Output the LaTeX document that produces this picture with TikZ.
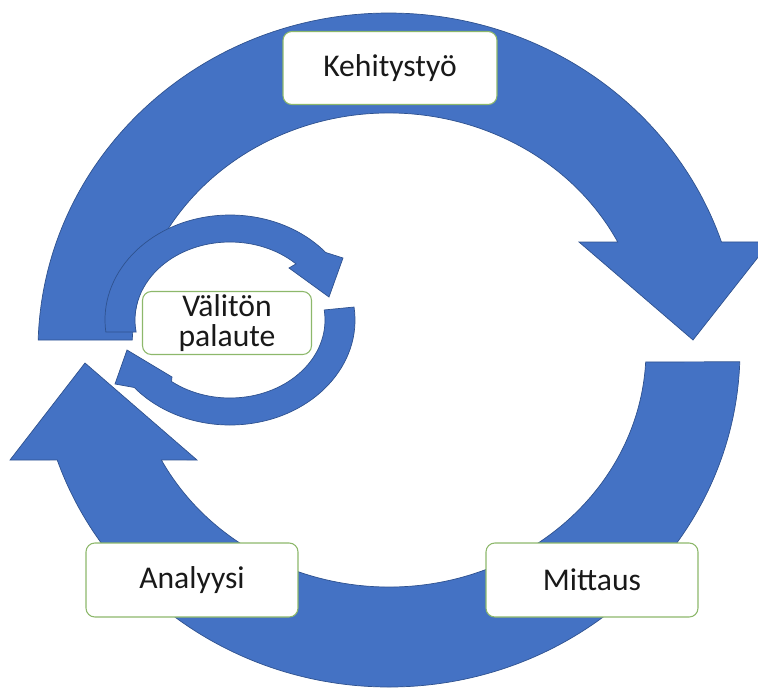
\documentclass[tikz,border=0pt]{standalone}
\usepackage{fontspec}
\setmainfont{Carlito}
\usetikzlibrary{positioning}
\definecolor{kierto}{HTML}{4472C4}
\definecolor{kiertoreuna}{HTML}{2F528F}
\definecolor{laatikkoreuna}{HTML}{8DB86B}

\begin{document}
\begin{tikzpicture}[x=0.02cm, y=-0.02cm,
  nuoli/.style={fill=kierto, draw=kiertoreuna, line width=0.4pt},
  laatikko/.style={draw=laatikkoreuna, fill=white, rounded corners=5pt, line width=0.6pt,
    inner sep=0pt, font=\fontsize{18}{17}\selectfont, text=black!90, align=center}]
  \clip (0,0) rectangle (758,687);

  % Outer cycle, upper arrow
  \draw[nuoli] ([shift={(389,350)}]181.7:351 and 337)
    arc[start angle=181.7, end angle=341.3, x radius=351, y radius=337]
    -- (770,242) -- (693,340) -- (579,242)
    -- ([shift={(389,350)}]332.9:257 and 237)
    arc[start angle=332.9, end angle=182.4, x radius=257, y radius=237] -- cycle;

  % Outer cycle, lower arrow
  \draw[nuoli] ([shift={(389,350)}]2.0:351 and 337)
    arc[start angle=2.0, end angle=160.95, x radius=351, y radius=337]
    -- (10,460) -- (85,363) -- (197,460)
    -- ([shift={(389,350)}]152.35:257 and 237)
    arc[start angle=152.35, end angle=2.9, x radius=257, y radius=237] -- cycle;

  % Inner cycle, upper arrow
  \draw[nuoli] ([shift={(230,320)}]173.4:125 and 105)
    arc[start angle=173.4, end angle=320, x radius=125, y radius=105]
    -- (343,258) -- (329,297) -- (289,268)
    -- ([shift={(230,320)}]314:95 and 78)
    arc[start angle=314, end angle=171.15, x radius=95, y radius=78] -- cycle;

  % Inner cycle, lower arrow
  \draw[nuoli] ([shift={(230,320)}]-7.1:125 and 105)
    arc[start angle=-7.1, end angle=140, x radius=125, y radius=105]
    -- (115,384) -- (127,350) -- (172,377)
    -- ([shift={(230,320)}]128:95 and 78)
    arc[start angle=128, end angle=-7.4, x radius=95, y radius=78] -- cycle;

  % Boxes
  \node[laatikko, minimum width=4.28cm, minimum height=1.46cm] (kehitys) at (390,68) {Kehitystyö};
  \node[laatikko, minimum width=3.38cm, minimum height=1.26cm] (valiton) at (227,323) {Välitön\\palaute};
  \node[laatikko, minimum width=4.24cm, minimum height=1.48cm] (analyysi) at (192,580) {Analyysi};
  \node[laatikko, minimum width=4.24cm, minimum height=1.48cm] (mittaus) at (592,580) {Mittaus};
\end{tikzpicture}
\end{document}
